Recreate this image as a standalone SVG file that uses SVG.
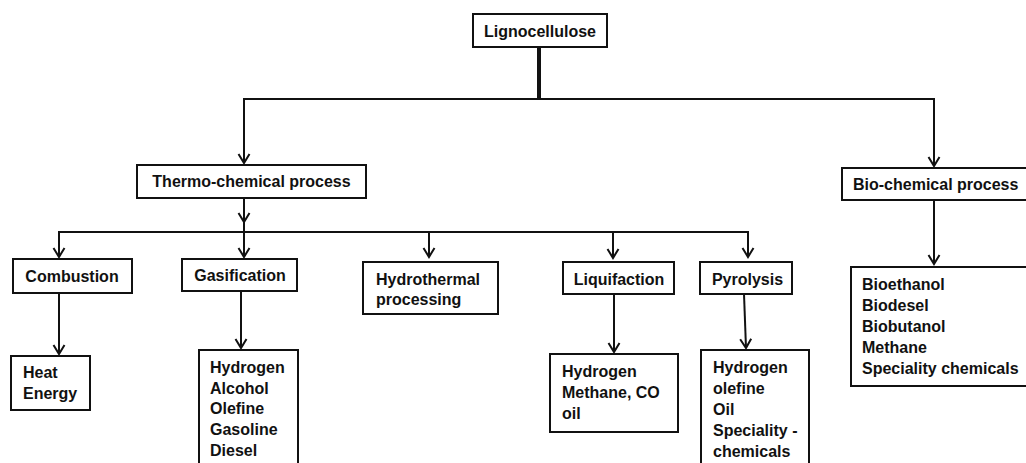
<svg xmlns="http://www.w3.org/2000/svg" width="1026" height="463" viewBox="0 0 1026 463">
<style>
  .box { fill: #fff; stroke: #111; stroke-width: 2; }
  .t { font-family: "Liberation Sans", Arial, sans-serif; font-weight: bold; font-size: 16px; fill: #111; }
  .c { text-anchor: middle; }
  .ln { fill: none; stroke: #111; stroke-width: 2; }
</style>
<defs>
  <marker id="arr" viewBox="-11 -7 13 14" refX="0" refY="0" markerWidth="13" markerHeight="14" markerUnits="userSpaceOnUse" orient="auto">
    <path d="M-9,-5.5 L0,0 L-9,5.5" fill="none" stroke="#111" stroke-width="2"/>
  </marker>
</defs>
<rect width="1026" height="463" fill="#fff"/>
<g id="connectors">
  <path d="M539,47 V98" fill="none" stroke="#111" stroke-width="4"/>
  <path class="ln" d="M539,99 H244 V163" marker-end="url(#arr)"/>
  <path class="ln" d="M539,99 H934 V166" marker-end="url(#arr)"/>
  <path class="ln" d="M244,198 V222" marker-end="url(#arr)"/>
  <path class="ln" d="M244,221 V232"/>
  <path class="ln" d="M59,257 V232 H748 V257" marker-end="url(#arr)"/>
  <path class="ln" d="M59,232 V257" marker-end="url(#arr)"/>
  <path class="ln" d="M244,232 V257" marker-end="url(#arr)"/>
  <path class="ln" d="M429,232 V257" marker-end="url(#arr)"/>
  <path class="ln" d="M613,232 V258" marker-end="url(#arr)"/>
  <path class="ln" d="M59,293 V354" marker-end="url(#arr)"/>
  <path class="ln" d="M241,291 V348" marker-end="url(#arr)"/>
  <path class="ln" d="M614,294 V352" marker-end="url(#arr)"/>
  <path class="ln" d="M744,294 L746,348" marker-end="url(#arr)"/>
  <path class="ln" d="M934,200 V264" marker-end="url(#arr)"/>
</g>
<g id="lignocellulose">
  <rect class="box" x="473" y="14" width="134" height="33"/>
  <text class="t c" x="540" y="37">Lignocellulose</text>
</g>
<g id="thermo">
  <rect class="box" x="137" y="165" width="229" height="33"/>
  <text class="t c" x="251.5" y="187">Thermo-chemical process</text>
</g>
<g id="bio">
  <rect class="box" x="842" y="168" width="200" height="32"/>
  <text class="t" x="853" y="190">Bio-chemical process</text>
</g>
<g id="combustion">
  <rect class="box" x="13" y="259" width="119" height="34"/>
  <text class="t c" x="72" y="282">Combustion</text>
</g>
<g id="gasification">
  <rect class="box" x="182" y="259" width="115" height="32"/>
  <text class="t c" x="240" y="281">Gasification</text>
</g>
<g id="hydrothermal">
  <rect class="box" x="363" y="262" width="135" height="52"/>
  <text class="t" x="376" y="285">Hydrothermal</text>
  <text class="t" x="376" y="305">processing</text>
</g>
<g id="liquifaction">
  <rect class="box" x="563" y="262" width="111" height="32"/>
  <text class="t c" x="619" y="285">Liquifaction</text>
</g>
<g id="pyrolysis">
  <rect class="box" x="700" y="262" width="92" height="32"/>
  <text class="t c" x="747.5" y="285">Pyrolysis</text>
</g>
<g id="heat">
  <rect class="box" x="11" y="356" width="79" height="54"/>
  <text class="t" x="23" y="378">Heat</text>
  <text class="t" x="23" y="399">Energy</text>
</g>
<g id="gas-products">
  <rect class="box" x="199" y="350" width="99" height="130"/>
  <text class="t" x="210" y="373">Hydrogen</text>
  <text class="t" x="210" y="394">Alcohol</text>
  <text class="t" x="210" y="414">Olefine</text>
  <text class="t" x="210" y="435">Gasoline</text>
  <text class="t" x="210" y="456">Diesel</text>
</g>
<g id="liq-products">
  <rect class="box" x="550" y="354" width="128" height="78"/>
  <text class="t" x="562" y="377">Hydrogen</text>
  <text class="t" x="562" y="398">Methane, CO</text>
  <text class="t" x="562" y="419">oil</text>
</g>
<g id="pyro-products">
  <rect class="box" x="701" y="350" width="108" height="130"/>
  <text class="t" x="713" y="373">Hydrogen</text>
  <text class="t" x="713" y="394">olefine</text>
  <text class="t" x="713" y="415">Oil</text>
  <text class="t" x="713" y="436">Speciality -</text>
  <text class="t" x="713" y="457">chemicals</text>
</g>
<g id="bio-products">
  <rect class="box" x="851" y="267" width="200" height="119"/>
  <text class="t" x="862" y="290">Bioethanol</text>
  <text class="t" x="862" y="311">Biodesel</text>
  <text class="t" x="862" y="332">Biobutanol</text>
  <text class="t" x="862" y="353">Methane</text>
  <text class="t" x="862" y="374">Speciality chemicals</text>
</g>
</svg>
